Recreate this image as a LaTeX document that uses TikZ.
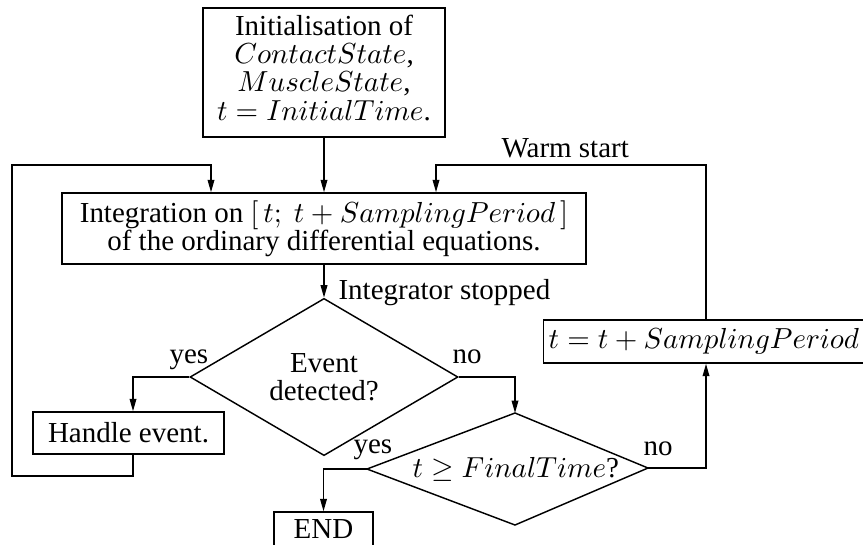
\documentclass[tikz,border=0pt]{standalone}
\usepackage[no-math]{fontspec}
\setmainfont{Liberation Serif}
\usetikzlibrary{shapes.geometric,arrows.meta}
\def\u{0.345pt}
\tikzset{
  box/.style={draw, line width=0.5pt, inner sep=0pt, align=center, font=\fontsize{10}{9.8}\selectfont},
  dia/.style={draw, diamond, line width=0.5pt, inner sep=0pt, align=center, font=\fontsize{10}{9.8}\selectfont},
  lbl/.style={inner sep=0pt, anchor=base west, font=\fontsize{10}{9.8}\selectfont},
  arr/.style={line width=0.5pt, -{Triangle[length=4.3pt,width=2.3pt]}},
  ln/.style={line width=0.5pt}
}
\begin{document}
\begin{tikzpicture}[x=0.345pt, y=-0.345pt]
\useasboundingbox (0,0) rectangle (863,544);
% boxes
\node[box, minimum width=242*\u, minimum height=129*\u, text depth=3.4pt] (init) at (324,72.5)
  {Initialisation of\\ $ContactState$,\\ $MuscleState$,\\ $t = InitialTime$.};
\node[box, minimum width=524*\u, minimum height=71*\u] (integ) at (324,228.5)
  {Integration on $[\,t;\ t + SamplingPeriod\,]$\\ of the ordinary differential equations.};
\node[dia, minimum width=268*\u, minimum height=112*\u] (d1) at (324,377) {Event\\ detected?};
\node[box, minimum width=191*\u, minimum height=42*\u] (handle) at (128.5,433) {Handle event.};
\node[box, minimum width=99*\u, minimum height=42*\u, text depth=2.9pt] (endn) at (323.5,533) {END};
\node[box, anchor=west, minimum height=43*\u, inner xsep=5*\u] (tbox) at (543,341.5) {$t = t + SamplingPeriod$};
% asymmetric diamond
\coordinate (d2l) at (367,469);
\coordinate (d2t) at (515,413);
\coordinate (d2r) at (648,468);
\coordinate (d2b) at (515,525);
\draw[ln] (d2l) -- (d2t) -- (d2r) -- (d2b) -- cycle;
\node[lbl] (d2text) at (412,477) {$t \geq FinalTime$?};
% routing points
\coordinate (h1) at (133,476);
\coordinate (lb) at (12,476);
\coordinate (lt) at (12,165);
\coordinate (a1) at (211,165);
\coordinate (w1) at (706,165);
\coordinate (w2) at (436,165);
% connectors
\draw[arr] (init.south) -- (integ.north);
\draw[arr] (integ.south) -- (d1.north);
\draw[arr] (d1.west) -| (h1 |- handle.north);
\draw[arr] (h1 |- handle.south) -- (h1) -- (lb) -- (lt) -- (a1) -- (a1 |- integ.north);
\draw[arr] (d1.east) -| (d2t);
\draw[arr] (d2r) -| (w1 |- tbox.south);
\draw[arr] (tbox.north -| w1) -- (w1) -- (w2) -- (w2 |- integ.north);
\draw[arr] (d2l) -| (endn.north);
% labels
\node[lbl] (lwarm) at (501,157) {Warm start};
\node[lbl] (lstop) at (338,299) {Integrator stopped};
\node[lbl] (lyes1) at (169,363) {yes};
\node[lbl] (lno1) at (452,363) {no};
\node[lbl] (lyes2) at (353,453) {yes};
\node[lbl] (lno2) at (643,455) {no};
\end{tikzpicture}
\end{document}
